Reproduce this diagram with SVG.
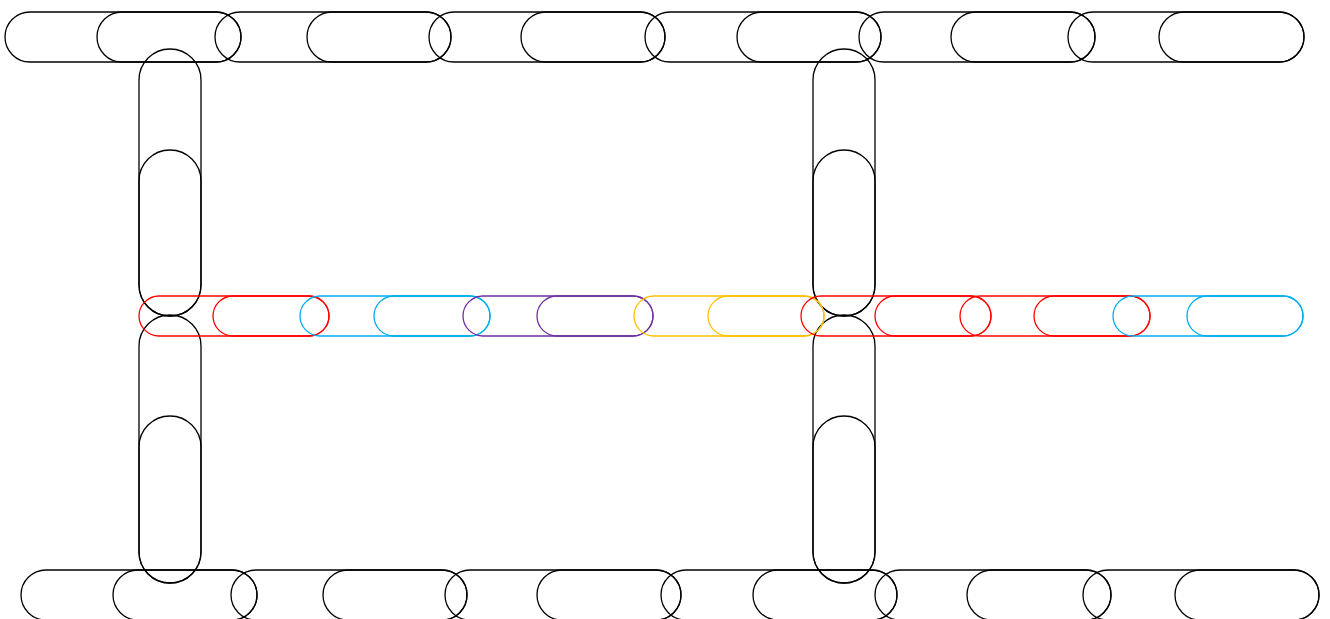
<svg xmlns="http://www.w3.org/2000/svg" width="1330" height="619" viewBox="0 0 1330 619">
<style>
rect{fill:none;stroke-width:1.3}
.k{stroke:#000}
.r{stroke:#ff0000}
.b{stroke:#00aeef}
.p{stroke:#7030a0}
.y{stroke:#ffc000}
.h{height:50px}
</style>
<rect width="1330" height="619" fill="#fff" stroke="none"/>
<g id="top-row">
<g id="t1" class="k"><rect x="5" y="12" width="236" height="50" rx="25"/><rect x="97" y="12" width="144" height="50" rx="25"/></g>
<g id="t2" class="k"><rect x="215" y="12" width="236" height="50" rx="25"/><rect x="307" y="12" width="144" height="50" rx="25"/></g>
<g id="t3" class="k"><rect x="429" y="12" width="236" height="50" rx="25"/><rect x="521" y="12" width="144" height="50" rx="25"/></g>
<g id="t4" class="k"><rect x="645" y="12" width="236" height="50" rx="25"/><rect x="737" y="12" width="144" height="50" rx="25"/></g>
<g id="t5" class="k"><rect x="859" y="12" width="236" height="50" rx="25"/><rect x="951" y="12" width="144" height="50" rx="25"/></g>
<g id="t6" class="k"><rect x="1068" y="12" width="236" height="50" rx="25"/><rect x="1159" y="12" width="145" height="50" rx="25"/></g>
</g>
<g id="verticals">
<g id="vl1" class="k"><rect x="139" y="49" width="62" height="267" rx="31"/><rect x="139" y="150" width="62" height="166" rx="31"/></g>
<g id="vl2" class="k"><rect x="139" y="315" width="62" height="268" rx="31"/><rect x="139" y="416" width="62" height="167" rx="31"/></g>
<g id="vr1" class="k"><rect x="813" y="49" width="62" height="267" rx="31"/><rect x="813" y="150" width="62" height="166" rx="31"/></g>
<g id="vr2" class="k"><rect x="813" y="315" width="62" height="268" rx="31"/><rect x="813" y="416" width="62" height="167" rx="31"/></g>
</g>
<g id="middle-row">
<g id="m1" class="r"><rect x="139" y="296" width="190" height="40" rx="20"/><rect x="213" y="296" width="116" height="40" rx="20"/></g>
<g id="m2" class="b"><rect x="300" y="296" width="190" height="40" rx="20"/><rect x="374" y="296" width="116" height="40" rx="20"/></g>
<g id="m3" class="p"><rect x="463" y="296" width="190" height="40" rx="20"/><rect x="537" y="296" width="116" height="40" rx="20"/></g>
<g id="m4" class="y"><rect x="634" y="296" width="190" height="40" rx="20"/><rect x="708" y="296" width="116" height="40" rx="20"/></g>
<g id="m5" class="r"><rect x="801" y="296" width="190" height="40" rx="20"/><rect x="875" y="296" width="116" height="40" rx="20"/></g>
<g id="m6" class="r"><rect x="960" y="296" width="190" height="40" rx="20"/><rect x="1034" y="296" width="116" height="40" rx="20"/></g>
<g id="m7" class="b"><rect x="1113" y="296" width="190" height="40" rx="20"/><rect x="1187" y="296" width="116" height="40" rx="20"/></g>
</g>
<g id="bottom-row">
<g id="b1" class="k"><rect x="21" y="570" width="236" height="50" rx="25"/><rect x="113" y="570" width="144" height="50" rx="25"/></g>
<g id="b2" class="k"><rect x="231" y="570" width="236" height="50" rx="25"/><rect x="323" y="570" width="144" height="50" rx="25"/></g>
<g id="b3" class="k"><rect x="445" y="570" width="236" height="50" rx="25"/><rect x="537" y="570" width="144" height="50" rx="25"/></g>
<g id="b4" class="k"><rect x="661" y="570" width="236" height="50" rx="25"/><rect x="753" y="570" width="144" height="50" rx="25"/></g>
<g id="b5" class="k"><rect x="875" y="570" width="236" height="50" rx="25"/><rect x="967" y="570" width="144" height="50" rx="25"/></g>
<g id="b6" class="k"><rect x="1083" y="570" width="236" height="50" rx="25"/><rect x="1175" y="570" width="144" height="50" rx="25"/></g>
</g>
<g id="connectors"/>
</svg>
